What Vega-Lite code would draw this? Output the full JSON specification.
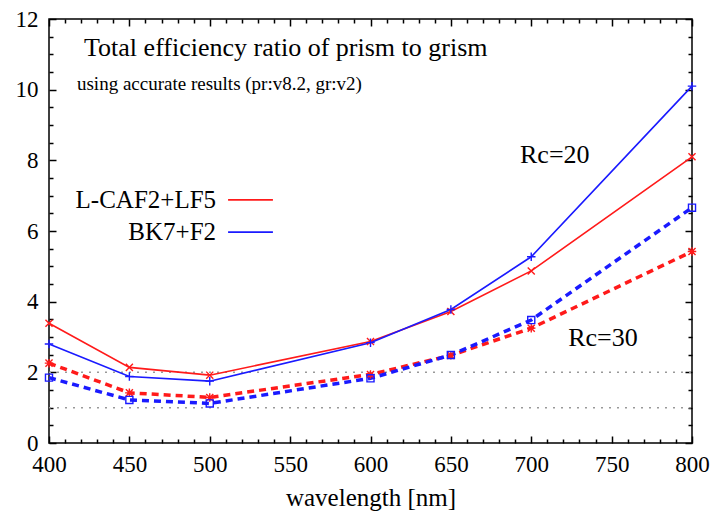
{
  "$schema": "https://vega.github.io/schema/vega-lite/v6.json",
  "width": 643,
  "height": 424,
  "autosize": "none",
  "padding": {"left": 49, "top": 19, "right": 21, "bottom": 68},
  "background": "white",
  "config": {
    "view": {"stroke": "#000000", "strokeWidth": 1.5},
    "axis": {"domain": false, "grid": false, "labelFlush": false, "labelFont": "Liberation Serif", "titleFont": "Liberation Serif", "labelColor": "#000", "titleColor": "#000", "tickColor": "#000"}
  },
  "datasets": {
    "series": [
      {"wl": 400, "v": 3.39, "s": "r20"}, {"wl": 450, "v": 2.14, "s": "r20"}, {"wl": 500, "v": 1.92, "s": "r20"}, {"wl": 600, "v": 2.87, "s": "r20"}, {"wl": 650, "v": 3.72, "s": "r20"}, {"wl": 700, "v": 4.87, "s": "r20"}, {"wl": 800, "v": 8.10, "s": "r20"},
      {"wl": 400, "v": 2.80, "s": "b20"}, {"wl": 450, "v": 1.88, "s": "b20"}, {"wl": 500, "v": 1.75, "s": "b20"}, {"wl": 600, "v": 2.84, "s": "b20"}, {"wl": 650, "v": 3.78, "s": "b20"}, {"wl": 700, "v": 5.27, "s": "b20"}, {"wl": 800, "v": 10.10, "s": "b20"},
      {"wl": 400, "v": 2.26, "s": "r30"}, {"wl": 450, "v": 1.42, "s": "r30"}, {"wl": 500, "v": 1.29, "s": "r30"}, {"wl": 600, "v": 1.94, "s": "r30"}, {"wl": 650, "v": 2.48, "s": "r30"}, {"wl": 700, "v": 3.25, "s": "r30"}, {"wl": 800, "v": 5.42, "s": "r30"},
      {"wl": 400, "v": 1.85, "s": "b30"}, {"wl": 450, "v": 1.22, "s": "b30"}, {"wl": 500, "v": 1.12, "s": "b30"}, {"wl": 600, "v": 1.83, "s": "b30"}, {"wl": 650, "v": 2.49, "s": "b30"}, {"wl": 700, "v": 3.48, "s": "b30"}, {"wl": 800, "v": 6.66, "s": "b30"}
    ],
    "refs": [{"x1": 400, "x2": 800, "y": 1}, {"x1": 400, "x2": 800, "y": 2}],
    "legend": [
      {"x1": 511.4, "x2": 539.3, "y": 6.88, "s": "r20", "t": "L-CAF2+LF5"},
      {"x1": 511.4, "x2": 539.3, "y": 5.97, "s": "b20", "t": "BK7+F2"}
    ],
    "notes": [
      {"x": 693, "y": 8.15, "t": "Rc=20"},
      {"x": 723, "y": 2.97, "t": "Rc=30"}
    ],
    "title": [{"x": 421.8, "y": 11.18, "t": "Total efficiency ratio of prism to grism"}],
    "sub": [{"x": 417.4, "y": 10.16, "t": "using accurate results (pr:v8.2, gr:v2)"}]
  },
  "resolve": {"axis": {"x": "independent", "y": "independent"}},
  "layer": [
    {
      "data": {"name": "refs"},
      "mark": {"type": "rule", "color": "#999999", "strokeWidth": 1.5, "strokeDash": [2, 6]},
      "encoding": {
        "x": {"field": "x1", "type": "quantitative", "scale": {"domain": [400, 800], "nice": false, "zero": false},
              "axis": {"orient": "bottom", "ticks": false, "values": [400, 450, 500, 550, 600, 650, 700, 750, 800], "labelFontSize": 23, "labelPadding": 10, "title": "wavelength [nm]", "titleFontSize": 25, "titleFontWeight": "normal", "titlePadding": 9}},
        "x2": {"field": "x2"},
        "y": {"field": "y", "type": "quantitative", "scale": {"domain": [0, 12], "nice": false},
              "axis": {"orient": "left", "ticks": false, "values": [0, 2, 4, 6, 8, 10, 12], "labelFontSize": 23, "labelPadding": 11, "title": null}}
      }
    },
    {
      "data": {"name": "series"},
      "transform": [{"filter": "datum.s == 'r20' || datum.s == 'b20'"}],
      "mark": {"type": "line", "strokeWidth": 1.6},
      "encoding": {
        "x": {"field": "wl", "type": "quantitative", "axis": {"orient": "top", "labels": false, "title": null, "values": [400, 450, 500, 550, 600, 650, 700, 750, 800], "tickSize": -7, "tickWidth": 1.5}},
        "y": {"field": "v", "type": "quantitative", "axis": {"orient": "right", "labels": false, "title": null, "values": [0, 2, 4, 6, 8, 10, 12], "tickSize": -7, "tickWidth": 1.5}},
        "detail": {"field": "s"},
        "color": {"field": "s", "type": "nominal", "legend": null, "scale": {"domain": ["r20", "b20", "r30", "b30"], "range": ["#ff1a1a", "#1a1aff", "#ff1a1a", "#1a1aff"]}}
      }
    },
    {
      "data": {"name": "series"},
      "transform": [{"filter": "datum.s == 'r30' || datum.s == 'b30'"}],
      "mark": {"type": "line", "strokeWidth": 3.5, "strokeDash": [7, 5]},
      "encoding": {
        "x": {"field": "wl", "type": "quantitative", "axis": {"orient": "bottom", "labels": false, "title": null, "values": [400, 450, 500, 550, 600, 650, 700, 750, 800], "tickSize": -7, "tickWidth": 1.5}},
        "y": {"field": "v", "type": "quantitative", "axis": {"orient": "left", "labels": false, "title": null, "values": [0, 2, 4, 6, 8, 10, 12], "tickSize": -7, "tickWidth": 1.5}},
        "detail": {"field": "s"},
        "color": {"field": "s", "type": "nominal", "legend": null}
      }
    },
    {
      "data": {"name": "series"},
      "mark": {"type": "point", "filled": false, "strokeWidth": 1.4, "size": 50, "opacity": 1},
      "encoding": {
        "x": {"field": "wl", "type": "quantitative", "axis": {"orient": "bottom", "labels": false, "title": null, "values": [410, 420, 430, 440, 460, 470, 480, 490, 510, 520, 530, 540, 560, 570, 580, 590, 610, 620, 630, 640, 660, 670, 680, 690, 710, 720, 730, 740, 760, 770, 780, 790], "tickSize": -4, "tickWidth": 1.5}},
        "y": {"field": "v", "type": "quantitative", "axis": {"orient": "left", "labels": false, "title": null, "values": [0.5, 1, 1.5, 2.5, 3, 3.5, 4.5, 5, 5.5, 6.5, 7, 7.5, 8.5, 9, 9.5, 10.5, 11, 11.5], "tickSize": -4, "tickWidth": 1.5}},
        "color": {"field": "s", "type": "nominal", "legend": null},
        "shape": {"field": "s", "type": "nominal", "legend": null, "scale": {"domain": ["r20", "b20", "r30", "b30"], "range": ["M-1,-1L1,1M-1,1L1,-1", "M-1.2,0L1.2,0M0,-1.2L0,1.2", "M-1,-1L1,1M-1,1L1,-1M-1.2,0L1.2,0M0,-1.2L0,1.2", "square"]}}
      }
    },
    {
      "data": {"name": "legend"},
      "mark": {"type": "rule", "strokeWidth": 1.8},
      "encoding": {
        "x": {"field": "x1", "type": "quantitative", "axis": {"orient": "top", "labels": false, "title": null, "values": [410, 420, 430, 440, 460, 470, 480, 490, 510, 520, 530, 540, 560, 570, 580, 590, 610, 620, 630, 640, 660, 670, 680, 690, 710, 720, 730, 740, 760, 770, 780, 790], "tickSize": -4, "tickWidth": 1.5}},
        "x2": {"field": "x2"},
        "y": {"field": "y", "type": "quantitative", "axis": {"orient": "right", "labels": false, "title": null, "values": [0.5, 1, 1.5, 2.5, 3, 3.5, 4.5, 5, 5.5, 6.5, 7, 7.5, 8.5, 9, 9.5, 10.5, 11, 11.5], "tickSize": -4, "tickWidth": 1.5}},
        "color": {"field": "s", "type": "nominal", "legend": null}
      }
    },
    {
      "data": {"name": "legend"},
      "mark": {"type": "text", "align": "right", "baseline": "middle", "font": "Liberation Serif", "fontSize": 25, "color": "#000", "dx": -12},
      "encoding": {
        "x": {"field": "x1", "type": "quantitative", "axis": null},
        "y": {"field": "y", "type": "quantitative", "axis": null},
        "text": {"field": "t"}
      }
    },
    {
      "data": {"name": "notes"},
      "mark": {"type": "text", "align": "left", "baseline": "middle", "font": "Liberation Serif", "fontSize": 26, "color": "#000"},
      "encoding": {
        "x": {"field": "x", "type": "quantitative", "axis": null},
        "y": {"field": "y", "type": "quantitative", "axis": null},
        "text": {"field": "t"}
      }
    },
    {
      "data": {"name": "title"},
      "mark": {"type": "text", "align": "left", "baseline": "middle", "font": "Liberation Serif", "fontSize": 26, "color": "#000"},
      "encoding": {
        "x": {"field": "x", "type": "quantitative", "axis": null},
        "y": {"field": "y", "type": "quantitative", "axis": null},
        "text": {"field": "t"}
      }
    },
    {
      "data": {"name": "sub"},
      "mark": {"type": "text", "align": "left", "baseline": "middle", "font": "Liberation Serif", "fontSize": 19, "color": "#000"},
      "encoding": {
        "x": {"field": "x", "type": "quantitative", "axis": null},
        "y": {"field": "y", "type": "quantitative", "axis": null},
        "text": {"field": "t"}
      }
    }
  ]
}
